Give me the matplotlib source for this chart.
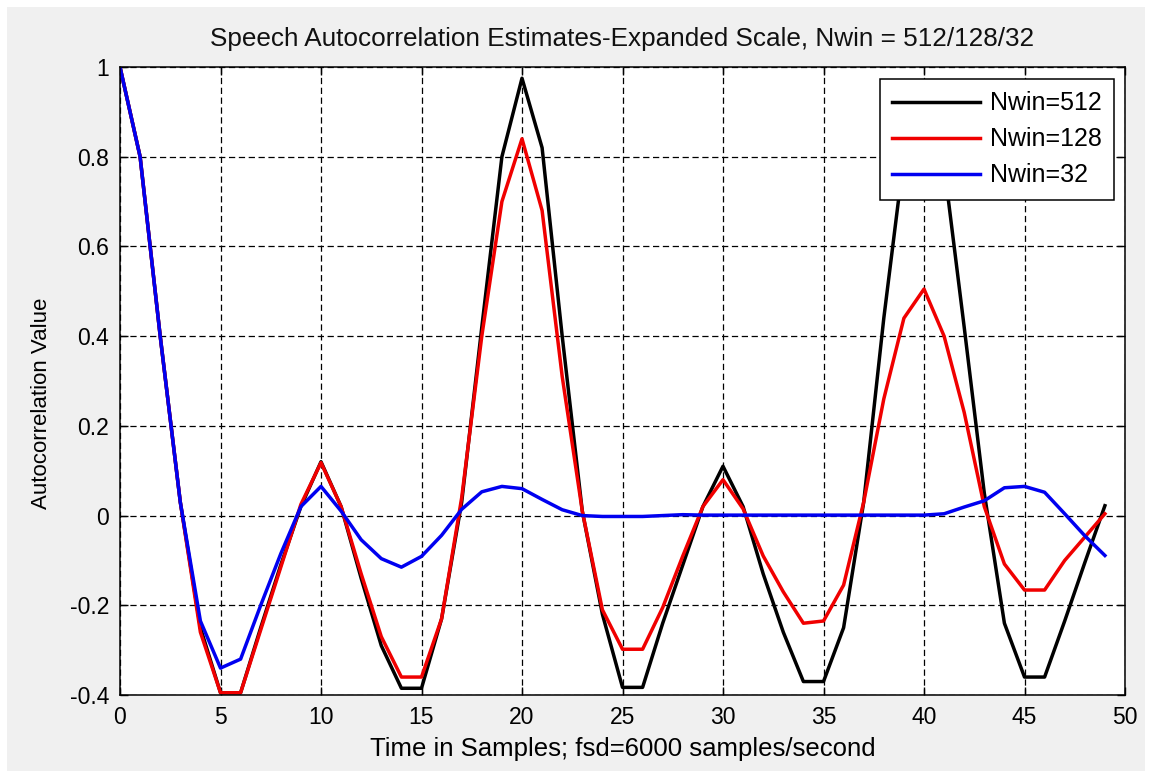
import numpy as np
import matplotlib
matplotlib.use('Agg')
import matplotlib.pyplot as plt
from matplotlib.patches import Rectangle

# lag index (samples)
lags = np.arange(50)

# autocorrelation estimates, one value per lag
r_512 = [1.00, 0.80, 0.40, 0.03, -0.25, -0.395, -0.395, -0.25, -0.11, 0.02,
         0.12, 0.02, -0.14, -0.29, -0.385, -0.385, -0.23, 0.03, 0.42, 0.80,
         0.975, 0.82, 0.40, 0.01, -0.22, -0.383, -0.383, -0.24, -0.11, 0.02,
         0.11, 0.02, -0.13, -0.26, -0.37, -0.37, -0.25, 0.03, 0.44, 0.80,
         0.95, 0.78, 0.42, 0.05, -0.24, -0.36, -0.36, -0.235, -0.105, 0.022]

r_128 = [1.00, 0.80, 0.40, 0.03, -0.26, -0.395, -0.395, -0.255, -0.115, 0.025,
         0.118, 0.02, -0.13, -0.27, -0.36, -0.36, -0.23, 0.04, 0.40, 0.70,
         0.84, 0.68, 0.31, 0.01, -0.21, -0.298, -0.298, -0.205, -0.09, 0.02,
         0.08, 0.015, -0.09, -0.17, -0.24, -0.235, -0.155, 0.03, 0.26, 0.44,
         0.505, 0.40, 0.23, 0.02, -0.108, -0.166, -0.166, -0.10, -0.048, 0.004]

r_32 = [1.00, 0.80, 0.40, 0.03, -0.235, -0.34, -0.32, -0.20, -0.085, 0.02,
        0.065, 0.01, -0.054, -0.096, -0.115, -0.091, -0.044, 0.014, 0.053, 0.065,
        0.06, 0.036, 0.013, 0.0, -0.002, -0.002, -0.002, 0.0, 0.002, 0.001,
        0.001, 0.001, 0.001, 0.001, 0.001, 0.001, 0.001, 0.001, 0.001, 0.001,
        0.001, 0.004, 0.019, 0.033, 0.062, 0.065, 0.052, 0.004, -0.045, -0.089]

labels = ['Nwin=512', 'Nwin=128', 'Nwin=32']
colors = ['black', '#f00000', '#0000f0']

x_ticks = [0, 5, 10, 15, 20, 25, 30, 35, 40, 45, 50]
y_ticks = [-0.4, -0.2, 0, 0.2, 0.4, 0.6, 0.8, 1]
y_tick_labels = ['-0.4', '-0.2', '0', '0.2', '0.4', '0.6', '0.8', '1']

plt.rcParams['font.family'] = ['Liberation Sans', 'DejaVu Sans']
plt.rcParams['lines.scale_dashes'] = False

W, H = 1152, 778
fig = plt.figure(figsize=(W / 100, H / 100), dpi=100, facecolor='white')
# grey MATLAB-style figure background inside a thin white border
fig.patches.append(Rectangle((7 / W, 7 / H), (W - 14) / W, (H - 14) / H,
                             transform=fig.transFigure, facecolor='#f0f0f0',
                             edgecolor='none', zorder=-10))

ax = fig.add_axes([120 / W, 83 / H, 1005 / W, 628 / H])
ax.set_facecolor('white')

for vals, lab, col in zip([r_512, r_128, r_32], labels, colors):
    ax.plot(lags, vals, color=col, linewidth=2.5, label=lab)

ax.set_xlim(0, 50)
ax.set_ylim(-0.4, 1)
ax.set_xticks(x_ticks)
ax.set_xticklabels([str(t) for t in x_ticks])
ax.set_yticks(y_ticks)
ax.set_yticklabels(y_tick_labels)

ax.grid(True, color='black', linestyle=(0, (4.5, 2.6)), linewidth=0.9)
ax.set_axisbelow(True)
for s in ax.spines.values():
    s.set_linewidth(1.1)
ax.tick_params(direction='in', length=6, width=1, top=True, right=True,
               labelsize=16.5, pad=8)

ax.set_title('Speech Autocorrelation Estimates-Expanded Scale, Nwin = 512/128/32',
             fontsize=18.8, pad=15, color='#111111')
ax.set_xlabel('Time in Samples; fsd=6000 samples/second', fontsize=18.5, labelpad=6)
ax.set_ylabel('Autocorrelation Value', fontsize=16)
ax.yaxis.set_label_coords(-0.068, 0.465)

leg = ax.legend(loc='upper right', bbox_to_anchor=(0.989, 0.981), borderaxespad=0,
                fontsize=18, fancybox=False, framealpha=1, edgecolor='black',
                handlelength=3.5, handletextpad=0.4, labelspacing=0.48,
                borderpad=0.5)
leg.get_frame().set_linewidth(1.1)

fig.savefig('out.png', dpi=100, facecolor=fig.get_facecolor())
